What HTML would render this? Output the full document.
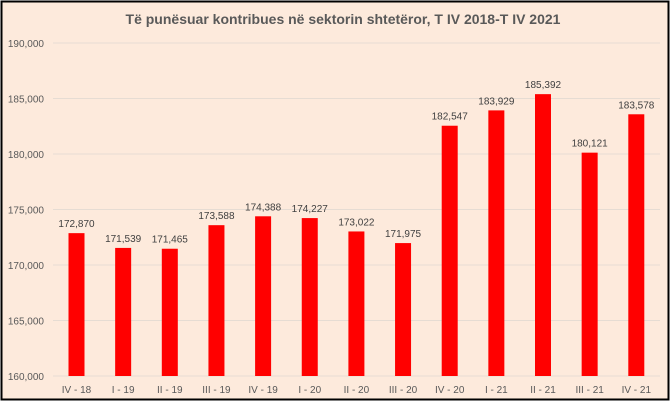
<!DOCTYPE html>
<html><head><meta charset="utf-8"><style>
body{margin:0;width:672px;height:403px;overflow:hidden;background:#fff}
</style></head><body>
<svg width="672" height="403" xmlns="http://www.w3.org/2000/svg" font-family="'Liberation Sans', sans-serif">
<rect x="1.5" y="1.5" width="667" height="398" fill="#FDEADC" stroke="#000" stroke-width="2"/>
<text x="343" y="24" text-anchor="middle" font-size="14" font-weight="bold" fill="#595959">Të punësuar kontribues në sektorin shtetëror, T IV 2018-T IV 2021</text>
<g id="g"></g>
</svg>
<script>
const g=document.getElementById('g');let s='';
for(let i=0;i<=6;i++){const v=160000+i*5000,y=376-i*55.5;
s+=`<line x1="53" x2="660" y1="${y}" y2="${y}" stroke="#E6DCD3" stroke-width="1"/>`;
s+=`<text x="44" y="${y+4}" text-anchor="end" font-size="10" fill="#595959">${v.toLocaleString('en-US')}</text>`;}
const d=[["IV - 18",172870],["I - 19",171539],["II - 19",171465],["III - 19",173588],["IV - 19",174388],["I - 20",174227],["II - 20",173022],["III - 20",171975],["IV - 20",182547],["I - 21",183929],["II - 21",185392],["III - 21",180121],["IV - 21",183578]];
d.forEach(([l,v],i)=>{const c=76.5+i*46.65,y=376-(v-160000)/5000*55.5;
s+=`<rect x="${c-8}" y="${y}" width="16" height="${376-y}" fill="#FF0000"/>`;
s+=`<text x="${c}" y="${y-6}" text-anchor="middle" font-size="10" fill="#404040">${v.toLocaleString('en-US')}</text>`;
s+=`<text x="${c}" y="393" text-anchor="middle" font-size="10" fill="#595959">${l}</text>`;});
g.innerHTML=s;
</script>
</body></html>
